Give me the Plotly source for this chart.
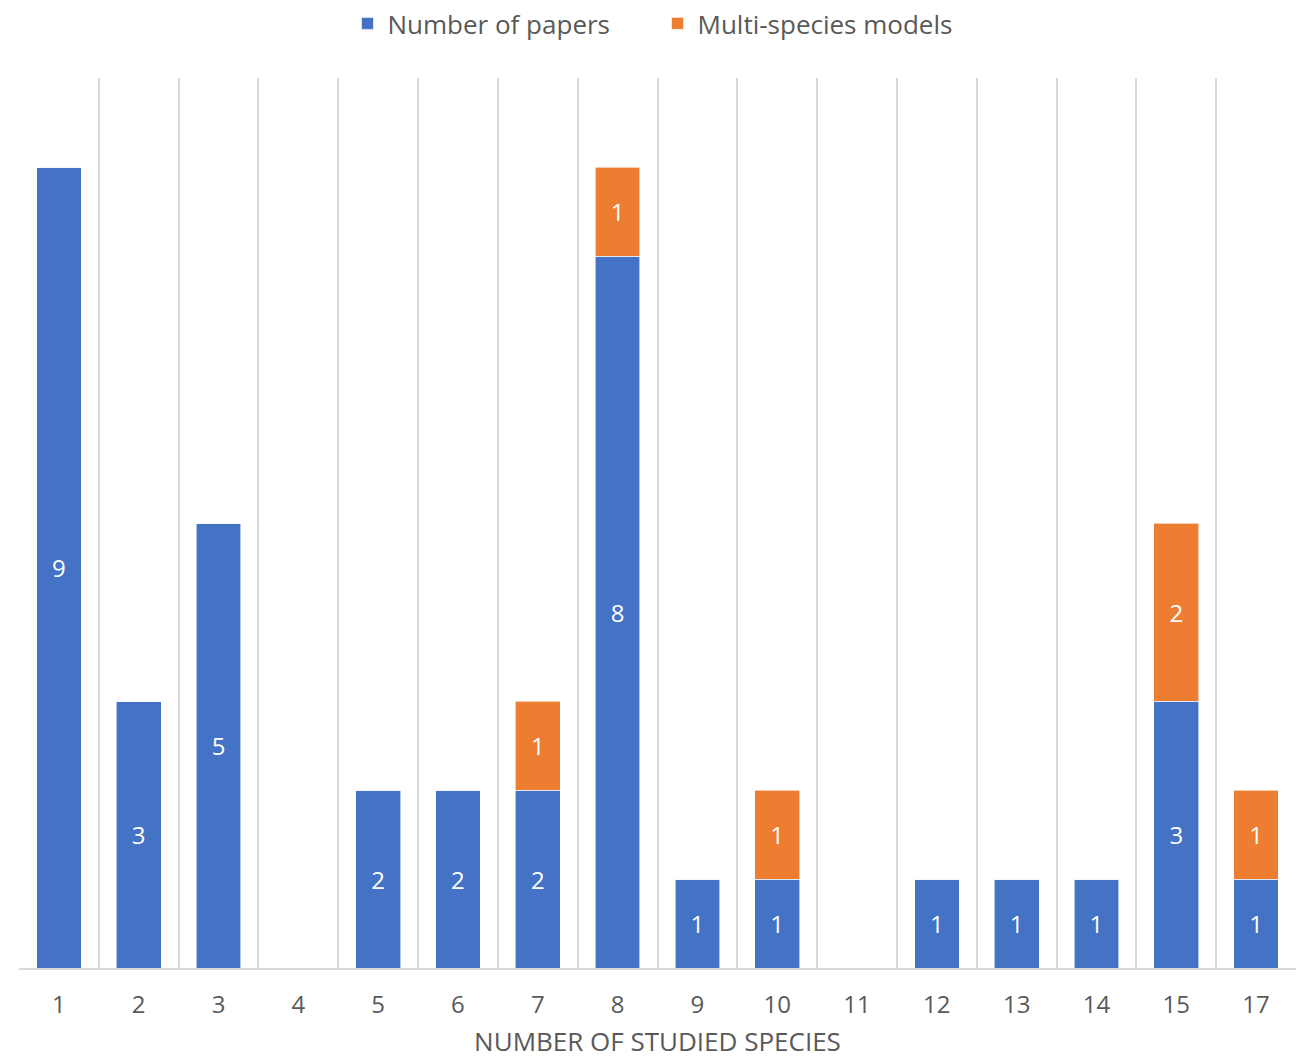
import plotly.graph_objects as go

# Number of studied species per paper (category labels)
species = ["1", "2", "3", "4", "5", "6", "7", "8", "9", "10", "11", "12", "13", "14", "15", "17"]
papers = [9, 3, 5, 0, 2, 2, 2, 8, 1, 1, 0, 1, 1, 1, 3, 1]
multi_species = [0, 0, 0, 0, 0, 0, 1, 1, 0, 1, 0, 0, 0, 0, 2, 1]

BLUE = "#4472C4"
ORANGE = "#ED7D31"
GREY_TEXT = "#595959"
GRID = "#D9D9D9"
FONT = "Open Sans, Noto Sans, sans-serif"


def labels(values):
    return [str(v) if v else "" for v in values]


fig = go.Figure()
for name, values, colour in [
    ("Number of papers", papers, BLUE),
    ("Multi-species models", multi_species, ORANGE),
]:
    fig.add_trace(go.Bar(
        name=name, x=species, y=values,
        marker=dict(color=colour, line=dict(color="white", width=0.6)),
        text=labels(values), textposition="inside", insidetextanchor="middle",
        textfont=dict(color="white", size=24, family=FONT),
        constraintext="none", hoverinfo="x+y",
    ))

fig.update_layout(
    barmode="stack",
    bargap=0.44,
    width=1309, height=1063,
    margin=dict(l=19, r=13, t=78, b=95),
    paper_bgcolor="white", plot_bgcolor="white",
    font=dict(family=FONT, color=GREY_TEXT),
    legend=dict(
        orientation="h", traceorder="normal",
        x=0.5, xanchor="center", y=1.0, yref="container", yanchor="top",
        font=dict(size=26, color=GREY_TEXT, family=FONT),
        itemwidth=30, entrywidth=265,
    ),
    showlegend=True,
    uniformtext=dict(mode=False),
)
fig.update_xaxes(
    type="category",
    tickson="boundaries",
    automargin=False,
    showgrid=True, gridcolor=GRID, gridwidth=2,
    showline=True, linecolor=GRID, linewidth=2,
    ticks="", ticklabelstandoff=14,
    tickfont=dict(size=24, color=GREY_TEXT, family=FONT),
    title=dict(text="NUMBER OF STUDIED SPECIES", font=dict(size=26, color=GREY_TEXT, family=FONT), standoff=14),
    zeroline=False,
)
fig.update_yaxes(
    range=[0, 10], visible=False, showgrid=False, zeroline=False,
)

fig.write_html("out.html")
